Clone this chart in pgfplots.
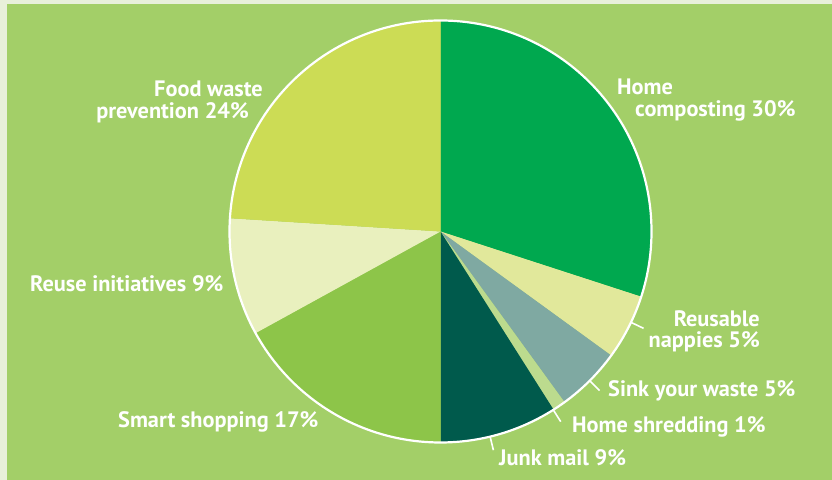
\documentclass[border=0pt]{standalone}
\usepackage{pgfplots}
\pgfplotsset{compat=1.18}
\usepackage{pgfplotstable}
\usetikzlibrary{calc}
\usepackage{fontspec}
\setmainfont{PT Sans}
\definecolor{bgborder}{HTML}{E8F0DA}
\definecolor{bg}{HTML}{A3CF68}
\definecolor{cHome}{HTML}{00A84F}
\definecolor{cNappies}{HTML}{E1E89B}
\definecolor{cSink}{HTML}{7FA9A2}
\definecolor{cShred}{HTML}{BCDB8E}
\definecolor{cJunk}{HTML}{005A4C}
\definecolor{cSmart}{HTML}{8DC549}
\definecolor{cReuse}{HTML}{E9F0BE}
\definecolor{cFood}{HTML}{CCDC55}

% share of each initiative (percent), clockwise from 12 o'clock
\pgfplotstableread{
value col
30 cHome
5  cNappies
5  cSink
1  cShred
9  cJunk
17 cSmart
9  cReuse
24 cFood
}\piedata

\def\cx{440.5}
\def\cy{248.5}
\def\rr{211}
\def\slicecmds{}
\def\startangle{90}
\pgfplotstablegetrowsof{\piedata}
\pgfmathtruncatemacro\lastrow{\pgfplotsretval-1}
\pgfplotsforeachungrouped \i in {0,...,\lastrow}{%
  \pgfplotstablegetelem{\i}{value}\of\piedata\let\sliceval\pgfplotsretval
  \pgfplotstablegetelem{\i}{col}\of\piedata\let\slicecol\pgfplotsretval
  \pgfmathsetmacro\endangle{\startangle-3.6*\sliceval}%
  \pgfmathsetmacro\sx{\cx+\rr*cos(\startangle)}%
  \pgfmathsetmacro\sy{\cy+\rr*sin(\startangle)}%
  \xdef\slicecmds{\slicecmds
    \noexpand\fill[\slicecol] (axis cs:\cx,\cy) -- (axis cs:\sx,\sy)
      arc[start angle=\startangle, end angle=\endangle, radius=\rr bp] -- cycle;}%
  \global\let\startangle\endangle
}
\tikzset{lab/.style={text=white, font=\fontsize{22.4}{23}\selectfont\bfseries, inner sep=0pt}}

\begin{document}
\begin{tikzpicture}
\begin{axis}[
  width=832bp, height=480bp, scale only axis,
  xmin=0, xmax=832, ymin=0, ymax=480,
  hide axis, clip=false,
]
\fill[bgborder] (axis cs:0,0) rectangle (axis cs:832,480);
\fill[bg] (axis cs:7,0) rectangle (axis cs:832,476);
\slicecmds
\draw[white, line width=2.2bp] (axis cs:\cx,\cy) circle[radius=\rr bp];
% leader ticks
\pgfplotsinvokeforeach{-25.5,-45,-57.7,-76.4}{
  \draw[white, line width=1.6bp] ($(axis cs:\cx,\cy)+(#1:\rr bp)$) -- ($(axis cs:\cx,\cy)+(#1:225bp)$);
}
\node[lab, anchor=base west] at (axis cs:617,385) {Home};
\node[lab, anchor=base west] at (axis cs:635,363) {composting 30\%};
\node[lab, anchor=base east] at (axis cs:263,383) {Food waste};
\node[lab, anchor=base east] at (axis cs:249,361) {prevention 24\%};
\node[lab, anchor=base east] at (axis cs:760,153) {Reusable};
\node[lab, anchor=base east] at (axis cs:760,132) {nappies 5\%};
\node[lab, anchor=base west] at (axis cs:608,83) {Sink your waste 5\%};
\node[lab, anchor=base west] at (axis cs:572,47) {Home shredding 1\%};
\node[lab, anchor=base west] at (axis cs:499,14) {Junk mail 9\%};
\node[lab, anchor=base west] at (axis cs:118,52) {Smart shopping 17\%};
\node[lab, anchor=base west] at (axis cs:30,188) {Reuse initiatives 9\%};
\end{axis}
\end{tikzpicture}
\end{document}
